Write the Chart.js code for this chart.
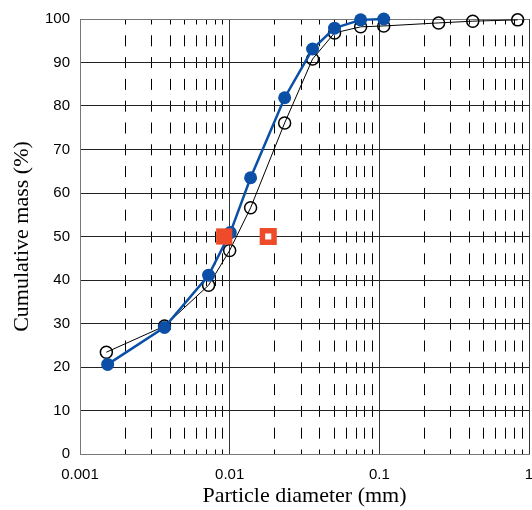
<!DOCTYPE html>
<html>
<head>
<meta charset="utf-8">
<script src="https://cdn.jsdelivr.net/npm/chart.js@4/dist/chart.umd.min.js"></script>
<style>
  html, body { margin: 0; padding: 0; background: #fff; }
  #wrap { width: 532px; height: 510px; position: relative; }
</style>
</head>
<body>
<div id="wrap"><canvas id="c" width="532" height="510"></canvas></div>
<script>
// ---- data ----
const openX = [0.0015, 0.00367, 0.00723, 0.0100, 0.0138, 0.0233, 0.0358, 0.0502, 0.075, 0.107, 0.249, 0.421, 0.84];
const openY = [23.4, 29.4, 38.8, 46.8, 56.6, 76.1, 90.8, 96.8, 98.2, 98.4, 99.1, 99.5, 99.8];

const blueX = [0.00153, 0.00367, 0.00723, 0.0101, 0.0138, 0.0233, 0.0358, 0.0502, 0.075, 0.107];
const blueY = [20.6, 29.1, 41.1, 50.9, 63.5, 81.9, 93.1, 97.9, 99.8, 100];

const redFilledX = [0.0092];
const redFilledY = [50];
const redOpenX = [0.0181];
const redOpenY = [50];

const decadeValues = [0.001, 0.01, 0.1, 1];
const decadeLabels = ['0.001', '0.01', '0.1', '1'];
const yTicks = [0, 10, 20, 30, 40, 50, 60, 70, 80, 90, 100];

const xTitle = 'Particle diameter (mm)';
const yTitle = 'Cumulative mass (%)';

// ---- build ----
function pts(xs, ys) { return xs.map((x, i) => ({ x: x, y: ys[i] })); }

const xTickValues = [];
for (let e = -3; e < 0; e++) {
  for (let m = 1; m <= 9; m++) xTickValues.push(parseFloat((m * Math.pow(10, e)).toPrecision(3)));
}
xTickValues.push(1);

function isMajor(v) {
  return decadeValues.some(d => Math.abs(v - d) / d < 1e-6);
}

const RED = '#ee4b2b';
const BLUE = '#0b4fa6';

new Chart(document.getElementById('c'), {
  type: 'scatter',
  data: {
    datasets: [
      {
        label: 'filled square',
        data: pts(redFilledX, redFilledY),
        pointStyle: 'rect',
        pointRadius: 11.5,
        pointBackgroundColor: RED,
        pointBorderColor: RED,
        pointBorderWidth: 0,
        showLine: false,
        clip: false
      },
      {
        label: 'open square',
        data: pts(redOpenX, redOpenY),
        pointStyle: 'rect',
        pointRadius: 8.2,
        pointBackgroundColor: '#ffffff',
        pointBorderColor: RED,
        pointBorderWidth: 5.5,
        showLine: false,
        clip: false
      },
      {
        label: 'blue',
        data: pts(blueX, blueY),
        showLine: true,
        borderColor: BLUE,
        borderWidth: 2.5,
        pointRadius: 6.5,
        pointBackgroundColor: BLUE,
        pointBorderColor: BLUE,
        pointBorderWidth: 0,
        clip: false
      },
      {
        label: 'open',
        data: pts(openX, openY),
        showLine: true,
        borderColor: '#000000',
        borderWidth: 1,
        pointRadius: 6,
        pointBackgroundColor: 'rgba(0,0,0,0)',
        pointBorderColor: '#000000',
        pointBorderWidth: 1.5,
        clip: false
      }
    ]
  },
  options: {
    responsive: false,
    animation: false,
    events: [],
    layout: { autoPadding: false, padding: { top: 18, right: 3, left: 0, bottom: 0 } },
    plugins: { legend: { display: false }, tooltip: { enabled: false } },
    scales: {
      x: {
        type: 'logarithmic',
        min: 0.001,
        max: 1,
        afterBuildTicks: (scale) => { scale.ticks = xTickValues.map(v => ({ value: v })); },
        afterFit: (scale) => { scale.height = 56; scale.paddingRight = 0; scale.paddingLeft = 0; },
        ticks: {
          autoSkip: false,
          maxRotation: 0,
          minRotation: 0,
          padding: 12,
          color: '#000',
          font: { family: 'Liberation Sans', size: 15 },
          callback: function (value) {
            const i = decadeValues.findIndex(d => Math.abs(value - d) / d < 1e-6);
            return i >= 0 ? decadeLabels[i] : '';
          }
        },
        grid: {
          drawTicks: false,
          lineWidth: 1,
          color: (ctx) => (ctx.tick && isMajor(ctx.tick.value)) ? '#333333' : '#000000'
        },
        border: {
          display: true,
          color: '#777777',
          width: 1,
          dash: (ctx) => (ctx.tick && !isMajor(ctx.tick.value)) ? [11, 10.8] : [],
          dashOffset: 5.5
        },
        title: {
          display: true,
          text: xTitle,
          color: '#000',
          font: { family: 'Liberation Serif', size: 22 },
          padding: { top: 0, bottom: 1 }
        }
      },
      y: {
        min: 0,
        max: 100,
        afterBuildTicks: (scale) => { scale.ticks = yTicks.map(v => ({ value: v })); },
        afterFit: (scale) => { scale.width = 80; },
        ticks: {
          padding: 10,
          color: '#000',
          font: { family: 'Liberation Sans', size: 15 }
        },
        grid: {
          drawTicks: false,
          lineWidth: 1,
          color: (ctx) => (ctx.tick && ctx.tick.value === 100) ? '#777777' : '#222222'
        },
        border: { display: true, color: '#777777', width: 1 },
        title: {
          display: true,
          text: yTitle,
          color: '#000',
          font: { family: 'Liberation Serif', size: 22 },
          padding: { top: 9, bottom: 0 }
        }
      }
    }
  }
});
</script>
</body>
</html>
